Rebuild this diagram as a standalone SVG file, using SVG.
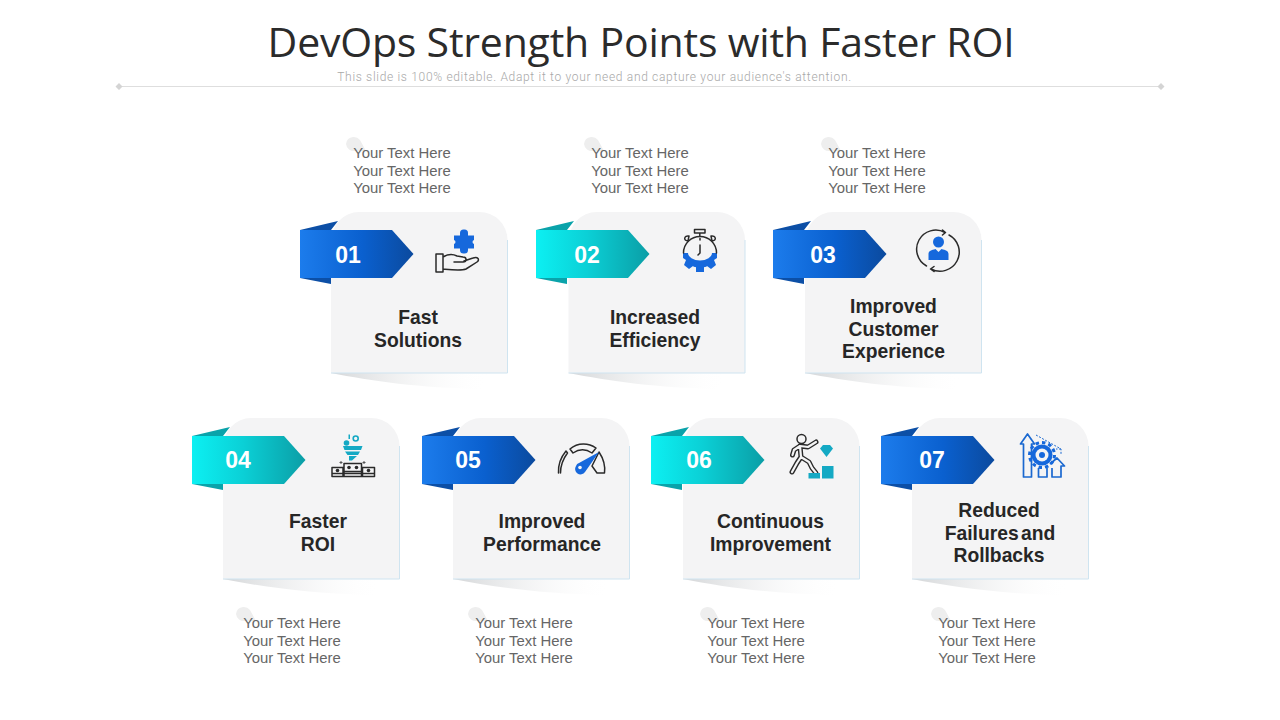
<svg xmlns="http://www.w3.org/2000/svg" xmlns:xlink="http://www.w3.org/1999/xlink" width="1280" height="720" viewBox="0 0 1280 720">
<style>
.title{font:400 41px "Open Sans","Noto Sans",sans-serif;fill:#2b2b2b;text-anchor:middle;letter-spacing:-.2px}
.sub{font:300 12px Roboto,"Liberation Sans",sans-serif;fill:#a8a8a8;text-anchor:middle;letter-spacing:.68px}
.body{font:14.9px "Liberation Sans",Arial,sans-serif;fill:#666;text-anchor:middle}
.lab{font:700 19.3px "Liberation Sans",Arial,sans-serif;fill:#262626;text-anchor:middle}
.num{font:700 23px "Liberation Sans",Arial,sans-serif;fill:#fff;text-anchor:middle}
.dk{fill:none;stroke:#2a2a2a;stroke-width:1.5;stroke-linejoin:round;stroke-linecap:round}
.bl{fill:#1668dc}
.blo{fill:none;stroke:#1a68d0;stroke-width:1.7;stroke-linejoin:round}
.te{fill:#14a9c4}
.cf{fill:#f4f4f5}
</style>
<defs>
<linearGradient id="gb" x1="0" x2="1" y1="0" y2="0"><stop offset="0" stop-color="#1c7cec"/><stop offset=".55" stop-color="#0a60cf"/><stop offset="1" stop-color="#0b4a9e"/></linearGradient>
<linearGradient id="gt" x1="0" x2="1" y1="0" y2="0"><stop offset="0" stop-color="#0cf0f2"/><stop offset=".45" stop-color="#0bd0d6"/><stop offset="1" stop-color="#0b9ea6"/></linearGradient>
<linearGradient id="gs" x1="0" x2="1" y1="0" y2="0"><stop offset="0" stop-color="#d4d6d8"/><stop offset="1" stop-color="#fff" stop-opacity="0"/></linearGradient>
<g id="card">
<path d="M0,161 C40,169 90,176 150,177 L158,161 Z" fill="url(#gs)"/>
<path d="M0,161 V30 A28,30 0 0 1 28,0 H148 A28,28 0 0 1 176.500,28 V161 Z" class="cf"/>
<path d="M176.500,28 V161 H0" fill="none" stroke="#cfe4f0" stroke-width="1"/>
</g>
<path id="rib" d="M0,9 V57 H92 L113.500,33 L92,9 Z"/>
<path id="dot" d="M0,-7 A8,8 0 0 1 7,-4 L13,7 L2,7 A8,8 0 0 1 -7,0 A8,8 0 0 1 0,-7 Z" fill="#eeeeee"/>
<g id="rb"><path d="M0,9 L38,0 L31,9 Z M0,57 L31,57 V63 L0,57 Z" fill="#0c4fa6"/><use href="#rib" fill="url(#gb)"/></g>
<g id="rt"><path d="M0,9 L38,0 L31,9 Z M0,57 L31,57 V63 L0,57 Z" fill="#0aa3aa"/><use href="#rib" fill="url(#gt)"/></g>
</defs>
<rect width="1280" height="720" fill="#fff"/>
<g id="header">
<text class="title" x="641" y="57">DevOps Strength Points with Faster ROI</text>
<path d="M119,86.500 H1161" stroke="#dedede" stroke-width="1"/>
<path d="M119,83 L122.500,86.500 L119,90 L115.500,86.500 Z M1161,83 L1164.500,86.500 L1161,90 L1157.500,86.500 Z" fill="#d4d4d4"/>
<text class="sub" x="594.500" y="81">This slide is 100% editable. Adapt it to your need and capture your audience's attention.</text>
</g>

<g id="node-01">
<use href="#card" x="331" y="212"/>
<use href="#rb" x="300" y="221"/>
<text class="num" x="348" y="263">01</text>
<text class="lab" x="418" y="324">Fast</text><text class="lab" x="418" y="347">Solutions</text>
<use href="#dot" x="353" y="144"/>
<text class="body" x="402" y="158">Your Text Here</text><text class="body" x="402" y="176">Your Text Here</text><text class="body" x="402" y="193">Your Text Here</text>
<rect class="bl" x="460" y="229.500" width="8" height="24" rx="3.500"/>
<rect class="bl" x="454" y="235.500" width="20" height="13"/>
<circle class="cf" cx="453.500" cy="242" r="2"/><circle class="cf" cx="474.500" cy="242" r="2"/>
<path class="dk" d="M436,254 h7 v18 h-7 Z M443,257 c5,-3 10,-3 14,-1 l6,1 c4,0 4,5 0,5 h-9 M464,261 l9,-3 c5,-2 7,2 4,4 l-11,7 c-5,2 -13,1 -23,0"/>
</g>

<g id="node-02">
<use href="#card" x="568.500" y="212"/>
<use href="#rt" x="536" y="221"/>
<text class="num" x="587" y="263">02</text>
<text class="lab" x="655" y="324">Increased</text><text class="lab" x="655" y="347">Efficiency</text>
<use href="#dot" x="591" y="144"/>
<text class="body" x="640" y="158">Your Text Here</text><text class="body" x="640" y="176">Your Text Here</text><text class="body" x="640" y="193">Your Text Here</text>
<path class="bl" d="M683,253 H717 L717,258 L714,260 L716,265 L711,269 L707,266 L704,267 L704,272 H696 L696,267 L693,266 L689,269 L684,265 L686,260 L683,258 Z"/>
<path class="bl" d="M685,253 H715 A15,15 0 0 1 685,253 Z"/>
<path class="cf" d="M688,253 H712 A12,7.500 0 0 1 688,253 Z"/>
<path class="dk" d="M683.500,253 A16.500,16.500 0 0 1 716.500,253"/>
<path class="dk" d="M694.500,229.500 h10.500 v3.500 h-10.500 Z M699.800,233 v3.500 M688,241 C683,241 684,235 689,236 Z M712,241 C717,241 716,235 711,236 Z M700,245 v8 l-2,2 M700,238.500 v1.500"/>
</g>

<g id="node-03">
<use href="#card" x="805" y="212"/>
<use href="#rb" x="773" y="221"/>
<text class="num" x="823" y="263">03</text>
<text class="lab" x="893.500" y="313">Improved</text><text class="lab" x="893.500" y="336">Customer</text><text class="lab" x="893.500" y="358">Experience</text>
<use href="#dot" x="828" y="144"/>
<text class="body" x="877" y="158">Your Text Here</text><text class="body" x="877" y="176">Your Text Here</text><text class="body" x="877" y="193">Your Text Here</text>
<path class="dk" d="M945,232.500 A19,19 0 0 0 926.500,266 M949,235 A19,19 0 0 1 931,269 M942.500,230 L945.500,232.500 L942.500,235 M934,266.500 L930.500,269 L934,271.500"/>
<circle class="bl" cx="938.500" cy="242" r="5.500"/>
<path class="bl" d="M928.500,260 v-6 c0,-3 3,-4 7,-5 l3,3 l3,-3 c4,1 7,2 7,5 v6 Z"/>
</g>

<g id="node-04">
<use href="#card" x="223" y="418"/>
<use href="#rt" x="192" y="427"/>
<text class="num" x="238" y="468">04</text>
<text class="lab" x="318" y="528">Faster</text><text class="lab" x="318" y="551">ROI</text>
<use href="#dot" x="243" y="614"/>
<text class="body" x="292" y="628">Your Text Here</text><text class="body" x="292" y="646">Your Text Here</text><text class="body" x="292" y="663">Your Text Here</text>
<circle class="te" cx="346.500" cy="443" r="2.800"/><rect class="te" x="348.500" y="434.500" width="1.500" height="4.500"/><circle cx="355.700" cy="438.500" r="2.500" fill="none" stroke="#14a9c4" stroke-width="1.600"/>
<path class="te" d="M343,446 H362.500 L361,450 H344.500 Z M345,451.500 H360 L358,455 H347.500 Z M349,456 H357 L352,460.500 H349 Z"/>
<path d="M341,461 v3 M339.500,462.500 h3 M364,461 v3 M362.500,462.500 h3" stroke="#555" stroke-width="1" fill="none"/>
<path class="dk" d="M332,467.500 h11 v9 h-11 Z M344,463.500 h17.500 v13 h-17.500 Z M362.500,467.500 h12 v9 h-12 Z"/>
<path d="M332,473.500 h42.500 M344,471.500 h17.500" stroke="#2a2a2a" stroke-width="1.500" fill="none"/>
<circle cx="337.500" cy="470.500" r="1.800" fill="#2a2a2a"/><circle cx="349" cy="467.500" r="1.800" fill="#2a2a2a"/><circle cx="356.500" cy="467.500" r="1.800" fill="#2a2a2a"/><circle cx="368.500" cy="470.500" r="1.800" fill="#2a2a2a"/>
</g>

<g id="node-05">
<use href="#card" x="453" y="418"/>
<use href="#rb" x="422" y="427"/>
<text class="num" x="468" y="468">05</text>
<text class="lab" x="542" y="528">Improved</text><text class="lab" x="542" y="551">Performance</text>
<use href="#dot" x="475" y="614"/>
<text class="body" x="524" y="628">Your Text Here</text><text class="body" x="524" y="646">Your Text Here</text><text class="body" x="524" y="663">Your Text Here</text>
<path class="dk" d="M558.500,473 C558,464 561,457 566,451 L567.500,453 C563,459 560.500,465 560.500,473 M570,449 C578,442 589,443 596,448 L592,453 C586,449 579,449 573,453 Z M599,452 C603,458 605.500,465 604.500,473 L597,473 L592,466 Z"/>
<path class="bl" d="M599,452 L585,472 A4.500,4.500 0 0 1 576,466 A4.500,4.500 0 0 1 579,463 Z"/>
<circle class="cf" cx="580" cy="467.500" r="1.800"/>
</g>

<g id="node-06">
<use href="#card" x="683" y="418"/>
<use href="#rt" x="651" y="427"/>
<text class="num" x="699" y="468">06</text>
<text class="lab" x="770.500" y="528">Continuous</text><text class="lab" x="770.500" y="551">Improvement</text>
<use href="#dot" x="707" y="614"/>
<text class="body" x="756" y="628">Your Text Here</text><text class="body" x="756" y="646">Your Text Here</text><text class="body" x="756" y="663">Your Text Here</text>
<circle class="dk" cx="801.500" cy="439" r="4.500"/>
<g fill="none" stroke-linecap="round" stroke-linejoin="round">
<path d="M816,442 L808,447 L800,446 L794,450 L792.500,455 M800,446 L801,457 L797,463 L792,472 M801,457 L809,462 L812,468 L816,473" stroke="#2a2a2a" stroke-width="5"/>
<path d="M816,442 L808,447 L800,446 L794,450 L792.500,455 M800,446 L801,457 L797,463 L792,472 M801,457 L809,462 L812,468 L816,473" stroke="#f4f4f5" stroke-width="2.200"/>
</g>
<path class="te" d="M823,445 h7 l3,3.500 l-6.500,8.500 l-6.500,-8.500 Z"/>
<path class="te" d="M808.500,473 h11.500 v5.500 h-11.500 Z M822,466 h11.500 v12.500 h-11.500 Z"/>
</g>

<g id="node-07">
<use href="#card" x="912" y="418"/>
<use href="#rb" x="881" y="427"/>
<text class="num" x="932" y="468">07</text>
<text class="lab" x="999" y="517">Reduced</text><text class="lab" x="1000" y="540" style="word-spacing:-3px">Failures and</text><text class="lab" x="999" y="562">Rollbacks</text>
<use href="#dot" x="938" y="614"/>
<text class="body" x="987" y="628">Your Text Here</text><text class="body" x="987" y="646">Your Text Here</text><text class="body" x="987" y="663">Your Text Here</text>
<path class="blo" d="M1023.500,477 V444 H1020.500 L1027.500,434 L1034.500,444 H1031.500 V477 Z M1038.500,468 V477 H1047 V468 M1052,468 V477 H1061 V466 H1064.500 L1057,458 L1050,464"/>
<path d="M1036,435 L1061,449 V454 M1061,449 H1056" fill="none" stroke="#1a68d0" stroke-width="1" stroke-dasharray="2 1.500"/>
<circle cx="1042" cy="455" r="12.500" fill="none" stroke="#1668dc" stroke-width="3" stroke-dasharray="3.500 3"/>
<circle cx="1042" cy="455" r="10.500" fill="#1668dc"/>
<circle class="cf" cx="1042" cy="455" r="6.500"/>
<circle cx="1042" cy="455" r="3" fill="#1668dc"/>
</g>
</svg>
